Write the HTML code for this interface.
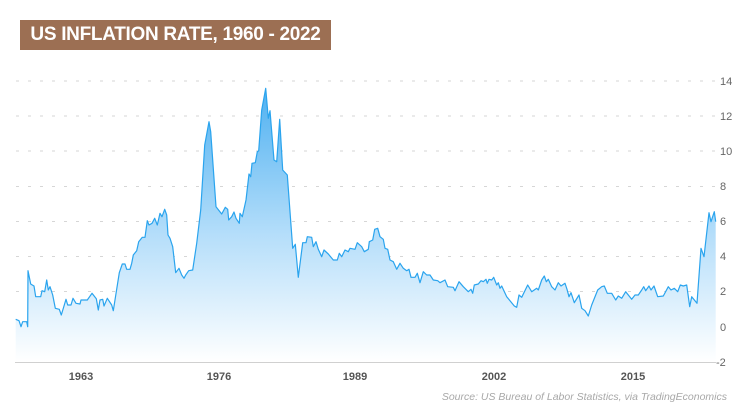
<!DOCTYPE html>
<html><head><meta charset="utf-8"><style>
html,body{margin:0;padding:0;background:#fff;}
body{width:750px;height:415px;overflow:hidden;position:relative;font-family:"Liberation Sans",sans-serif;}
.t{position:absolute;left:20px;top:20px;width:311px;height:30px;background:#9c6f53;color:#fff;font-weight:bold;font-size:19px;line-height:30px;text-align:center;letter-spacing:-0.3px;}
</style></head><body>
<svg width="750" height="415" style="position:absolute;left:0;top:0">
<defs><linearGradient id="g" x1="0" y1="80" x2="0" y2="362" gradientUnits="userSpaceOnUse">
<stop offset="0" stop-color="#49aef0"/><stop offset="0.55" stop-color="#b5defa"/><stop offset="1" stop-color="#ffffff"/></linearGradient></defs>
<g stroke="#d6d6d6" stroke-width="1" stroke-dasharray="3,9">
<line x1="16" x2="716" y1="81" y2="81"/><line x1="16" x2="716" y1="116" y2="116"/><line x1="16" x2="716" y1="151" y2="151"/><line x1="16" x2="716" y1="186.5" y2="186.5"/><line x1="16" x2="716" y1="221.5" y2="221.5"/><line x1="16" x2="716" y1="256.5" y2="256.5"/><line x1="16" x2="716" y1="291.5" y2="291.5"/><line x1="16" x2="716" y1="327" y2="327"/>
</g>
<polygon fill="url(#g)" points="15.7,362 15.7,319.3 19,320.7 21,326.7 22.7,321.7 26.7,321.7 27.7,326.7 28,270.7 30.7,284 32.3,285 34,286 35.7,296.7 40.7,296.7 42,290.7 44.7,291.7 46.7,280 48.3,290 50,286.7 52.7,295 55.3,308.3 59.3,309.3 61.3,315 66,299.3 67.7,305 71,305 73,298.3 76,303.3 80,304 81,300 83.3,300 87.3,300 92,293.3 96.3,298.7 98.3,310 100,300 102.7,299.3 104,306 107.3,298.3 111.7,305 113.3,310.7 119.3,272.7 122.3,264 125,264 126.7,269.3 130,269.3 131.7,263.3 133.3,255 136.7,250.7 138.7,241.7 142.3,237.3 145,237.3 147.3,220.7 149,225 152,223.3 154.7,218.3 157.3,225 160,213.3 162,216.7 164.7,209.3 166.7,215 168,235 170,238.3 172.7,246.7 175.7,272.7 179,268.3 181.7,275 184,278.3 185.7,275 188.7,270.7 192.7,270 196.7,243.3 200.7,210 204.7,145 209,121.7 210.7,131.7 216,206.7 221.7,214 225.3,207.3 227.7,209.3 228.7,220 231.7,216.7 234,212 236,218.3 239.3,223.3 240,213.3 242.3,216.7 246,200 249,174 250.7,176.7 252,163.3 255.3,162.7 257.3,151.7 258.7,150.7 261.7,110 265.7,88.3 268.3,118.3 270,110.7 274,160 276.7,161.7 279.7,119.3 282.7,170 287.3,175 292.7,248.3 295.3,244.3 298.3,277.3 302.7,242.7 306,242.7 307.3,236.7 311.7,237.3 313.3,246.7 316,241.7 318.3,249.3 321.7,256.7 324,250 328.3,254 333.3,260 337.3,260 339.3,253.3 341.7,256.7 345,250 348.3,251.7 350,248.3 355,249.3 357.3,242.7 361.7,246.7 364.3,251.7 368.3,249.3 369.3,241.7 372.7,240 374.7,229.3 377.7,228.3 380,236.7 383.3,239.3 385,248.3 387.7,249.3 390,260 393.3,261.7 396.7,269.3 400,263.3 403.3,268.3 406.7,270.7 409,269.3 411,277.3 415,277.3 417.3,273.3 420,282.7 423.3,271.7 426.7,275 430,275 433.3,280 437.7,280.7 440,282.7 445,280 447.7,286.7 453.3,287.3 455,290.7 459,281.7 463.3,286.7 468.3,291.7 471,289.3 472.7,293.3 474.3,285 478.3,284 481,280.7 483.3,281.7 486,279.3 487.3,283.3 489,279.3 491.7,280 493.7,277.3 496.7,285 498.3,282.7 500,288.3 501.7,286 506.7,296.7 510,300.7 514.3,306 516.7,307.3 519,295 521.7,297.3 527.7,285 531.7,291.7 536.7,288.3 538.3,290 541.7,280 544.3,276 546.3,281.7 548.3,279.3 551.7,286.7 555,290 558.3,282.7 561,286 565,283.3 567,289.3 569,296.7 571,292.7 574.3,302.7 579,295 581.7,308.3 585,310.7 588.3,316 591.7,305 597.7,290 601.7,286.7 604.3,286 607.3,293.3 611.7,293.3 615.7,300 618.3,296 621.7,298.3 625.7,291.7 631.7,299.3 635,295 638.3,295 641.7,290 643.7,286.7 645.7,290.7 649,286 651,290 654,286 657.7,296.7 663.3,296 668.3,286.7 671,290 674.3,288.3 677.7,291.7 680.3,285 683.3,286 686.7,285 689.7,306.7 691.7,296.7 697,303.3 701,248.3 704,256.7 709,212.7 711,221.7 714.3,211.7 715.7,221.7 715.7,362"/>
<polyline fill="none" stroke="#2aa4ee" stroke-width="1.2" stroke-linejoin="round" points="15.7,319.3 19,320.7 21,326.7 22.7,321.7 26.7,321.7 27.7,326.7 28,270.7 30.7,284 32.3,285 34,286 35.7,296.7 40.7,296.7 42,290.7 44.7,291.7 46.7,280 48.3,290 50,286.7 52.7,295 55.3,308.3 59.3,309.3 61.3,315 66,299.3 67.7,305 71,305 73,298.3 76,303.3 80,304 81,300 83.3,300 87.3,300 92,293.3 96.3,298.7 98.3,310 100,300 102.7,299.3 104,306 107.3,298.3 111.7,305 113.3,310.7 119.3,272.7 122.3,264 125,264 126.7,269.3 130,269.3 131.7,263.3 133.3,255 136.7,250.7 138.7,241.7 142.3,237.3 145,237.3 147.3,220.7 149,225 152,223.3 154.7,218.3 157.3,225 160,213.3 162,216.7 164.7,209.3 166.7,215 168,235 170,238.3 172.7,246.7 175.7,272.7 179,268.3 181.7,275 184,278.3 185.7,275 188.7,270.7 192.7,270 196.7,243.3 200.7,210 204.7,145 209,121.7 210.7,131.7 216,206.7 221.7,214 225.3,207.3 227.7,209.3 228.7,220 231.7,216.7 234,212 236,218.3 239.3,223.3 240,213.3 242.3,216.7 246,200 249,174 250.7,176.7 252,163.3 255.3,162.7 257.3,151.7 258.7,150.7 261.7,110 265.7,88.3 268.3,118.3 270,110.7 274,160 276.7,161.7 279.7,119.3 282.7,170 287.3,175 292.7,248.3 295.3,244.3 298.3,277.3 302.7,242.7 306,242.7 307.3,236.7 311.7,237.3 313.3,246.7 316,241.7 318.3,249.3 321.7,256.7 324,250 328.3,254 333.3,260 337.3,260 339.3,253.3 341.7,256.7 345,250 348.3,251.7 350,248.3 355,249.3 357.3,242.7 361.7,246.7 364.3,251.7 368.3,249.3 369.3,241.7 372.7,240 374.7,229.3 377.7,228.3 380,236.7 383.3,239.3 385,248.3 387.7,249.3 390,260 393.3,261.7 396.7,269.3 400,263.3 403.3,268.3 406.7,270.7 409,269.3 411,277.3 415,277.3 417.3,273.3 420,282.7 423.3,271.7 426.7,275 430,275 433.3,280 437.7,280.7 440,282.7 445,280 447.7,286.7 453.3,287.3 455,290.7 459,281.7 463.3,286.7 468.3,291.7 471,289.3 472.7,293.3 474.3,285 478.3,284 481,280.7 483.3,281.7 486,279.3 487.3,283.3 489,279.3 491.7,280 493.7,277.3 496.7,285 498.3,282.7 500,288.3 501.7,286 506.7,296.7 510,300.7 514.3,306 516.7,307.3 519,295 521.7,297.3 527.7,285 531.7,291.7 536.7,288.3 538.3,290 541.7,280 544.3,276 546.3,281.7 548.3,279.3 551.7,286.7 555,290 558.3,282.7 561,286 565,283.3 567,289.3 569,296.7 571,292.7 574.3,302.7 579,295 581.7,308.3 585,310.7 588.3,316 591.7,305 597.7,290 601.7,286.7 604.3,286 607.3,293.3 611.7,293.3 615.7,300 618.3,296 621.7,298.3 625.7,291.7 631.7,299.3 635,295 638.3,295 641.7,290 643.7,286.7 645.7,290.7 649,286 651,290 654,286 657.7,296.7 663.3,296 668.3,286.7 671,290 674.3,288.3 677.7,291.7 680.3,285 683.3,286 686.7,285 689.7,306.7 691.7,296.7 697,303.3 701,248.3 704,256.7 709,212.7 711,221.7 714.3,211.7 715.7,221.7"/>
<line x1="15" x2="716" y1="362.5" y2="362.5" stroke="#d0d0d0" stroke-width="1"/>
<g font-family="Liberation Sans, sans-serif" font-size="11" fill="#666">
<text x="720" y="85">14</text><text x="720" y="120">12</text><text x="720" y="155">10</text><text x="720" y="190">8</text><text x="720" y="225">6</text><text x="720" y="260">4</text><text x="720" y="295">2</text><text x="720" y="331">0</text><text x="716" y="366">-2</text>
</g>
<g font-family="Liberation Sans, sans-serif" font-size="11" font-weight="bold" fill="#555" text-anchor="middle">
<text x="81" y="380">1963</text><text x="219" y="380">1976</text><text x="355" y="380">1989</text><text x="494" y="380">2002</text><text x="633" y="380">2015</text>
</g>
<text x="727" y="400" text-anchor="end" font-family="Liberation Sans, sans-serif" font-size="10.5" font-style="italic" fill="#a8a8a8">Source: US Bureau of Labor Statistics, via TradingEconomics</text>
</svg>
<div class="t">US INFLATION RATE, 1960 - 2022</div>
</body></html>
